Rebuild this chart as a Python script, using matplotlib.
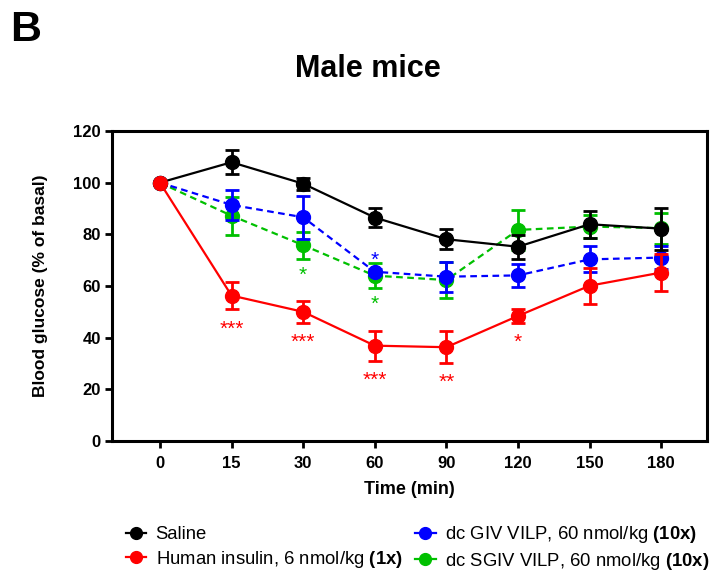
import matplotlib
matplotlib.use("Agg")
import matplotlib.pyplot as plt
from matplotlib.lines import Line2D
import numpy as np

plt.rcParams['font.family'] = ['Liberation Sans', 'DejaVu Sans']
plt.rcParams['mathtext.fontset'] = 'custom'
plt.rcParams['mathtext.rm'] = 'Liberation Sans'
plt.rcParams['mathtext.bf'] = 'Liberation Sans:bold'

time_labels = ['0', '15', '30', '60', '90', '120', '150', '180']

saline = [100, 107.9, 99.6, 86.5, 78.1, 75.2, 83.9, 82.2]
saline_err = [0, 4.6, 2.3, 3.5, 3.8, 4.6, 5.3, 8.1]
insulin = [100, 56.3, 50.0, 36.9, 36.3, 48.4, 60.1, 65.2]
insulin_err = [0, 5.3, 4.2, 5.8, 6.3, 2.8, 7.0, 7.3]
giv = [100, 91.4, 86.6, 65.5, 63.6, 64.1, 70.3, 71.0]
giv_err = [0, 5.8, 8.3, 1.2, 5.8, 4.5, 5.0, 4.3]
sgiv = [100, 87.2, 75.8, 64.0, 62.3, 81.7, 83.0, 82.4]
sgiv_err = [0, 7.4, 5.2, 4.8, 6.8, 7.7, 4.5, 6.0]

# significance annotations: (index, y, text, color)
stars_idx = [1, 2, 3, 4, 5, 2, 3, 3]
stars_y = [45.6, 40.6, 25.9, 25.3, 40.6, 66.6, 55.5, 72.4]
stars_txt = ['***', '***', '***', '**', '*', '*', '*', '*']
stars_col = ['#ff0000', '#ff0000', '#ff0000', '#ff0000', '#ff0000', '#00c000', '#00c000', '#0000ff']

fig = plt.figure(figsize=(7.13, 5.73), dpi=100)
ax = fig.add_axes([0.157, 0.2304, 0.8346, 0.541])

x = np.arange(len(time_labels))

lab_sal = 'Saline'
lab_ins = 'Human insulin, 6 nmol/kg $\\mathbf{(1x)}$'
lab_giv = 'dc GIV VILP, 60 nmol/kg $\\mathbf{(10x)}$'
lab_sgiv = 'dc SGIV VILP, 60 nmol/kg $\\mathbf{(10x)}$'

series = [
    (sgiv, sgiv_err, '#00c000', '--', lab_sgiv, 2),
    (giv, giv_err, '#0000ff', '--', lab_giv, 3),
    (saline, saline_err, '#000000', '-', lab_sal, 4),
    (insulin, insulin_err, '#ff0000', '-', lab_ins, 5),
]
colors = {}
for vals, errs, col, ls, lab, z in series:
    kw = dict(dashes=(3, 2)) if ls == '--' else {}
    ax.errorbar(x, vals, yerr=errs, color=col, ls=ls, lw=1.6, marker='o',
                markersize=10, capsize=5, capthick=2, elinewidth=2,
                zorder=z, **kw)
    colors[lab] = col

for i, yv, t, c in zip(stars_idx, stars_y, stars_txt, stars_col):
    ax.annotate(t, (x[i], yv), xytext=(0, -8.5), textcoords='offset points',
                color=c, ha='center', va='baseline', fontsize=15)

ax.set_xlim(-0.67, 7.64)
ax.set_ylim(0, 120)
ax.set_yticks(np.arange(0, 121, 20))
ax.set_xticks(x)
ax.set_xticklabels(time_labels)
for lab in ax.get_xticklabels() + ax.get_yticklabels():
    lab.set_fontweight('bold')
ax.tick_params(axis='both', labelsize=12, width=2, length=5, direction='out')
ax.tick_params(axis='x', pad=6)
ax.tick_params(axis='y', pad=3)
for sp in ax.spines.values():
    sp.set_linewidth(2.2)

ax.set_xlabel('Time (min)', fontsize=13, fontweight='bold', labelpad=7)
ax.set_ylabel('Blood glucose (% of basal)', fontsize=12.5, fontweight='bold', labelpad=18)

fig.text(368 / 713, 1 - 69 / 573, 'Male mice', fontsize=22, fontweight='bold',
         ha='center', va='center')
fig.text(0.014, 1 - 30 / 573, 'B', fontsize=31, fontweight='bold', ha='left', va='center')

order = [lab_sal, lab_ins, lab_giv, lab_sgiv]
leg_handles = [Line2D([], [], color=colors[l], lw=1.6, marker='o', markersize=8.5) for l in order]
fig.legend(leg_handles, order, loc='upper left', bbox_to_anchor=(126 / 713, 1 - 524 / 573), ncol=2,
           frameon=False, fontsize=13.3, handlelength=1.1, handletextpad=0.5,
           columnspacing=0.7, labelspacing=0.3, borderaxespad=0, borderpad=0)

fig.savefig('out.png', dpi=100)
